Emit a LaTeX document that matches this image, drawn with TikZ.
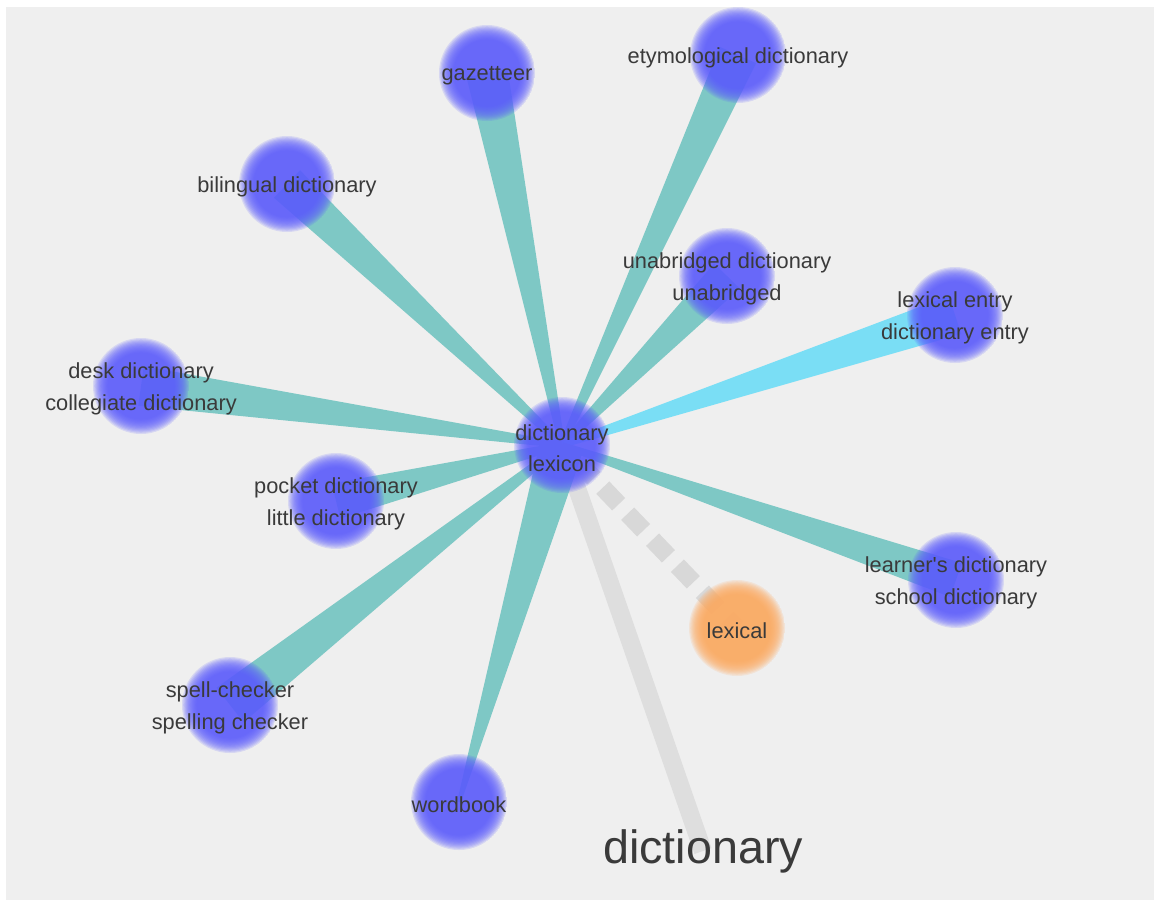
\documentclass[tikz,border=0pt]{standalone}
\usepackage{fontspec}
\setmainfont{Liberation Sans}
\usetikzlibrary{calc}
\definecolor{bgc}{RGB}{239,239,239}
\definecolor{tealE}{RGB}{126,200,197}
\definecolor{cyanE}{RGB}{122,222,245}
\definecolor{ballB}{RGB}{92,92,255}
\definecolor{ballO}{RGB}{255,170,95}
\definecolor{txt}{RGB}{58,58,58}
\definecolor{gline}{RGB}{222,222,222}
\definecolor{gdash}{RGB}{216,216,216}
\pgfdeclarelayer{bgl}
\pgfdeclarelayer{edges}
\pgfsetlayers{bgl,edges,main}
\tikzset{
  ball/.style={circle, minimum size=96pt, inner sep=0pt, draw=none,
    path picture={
      \foreach \r in {48,46.8,...,33}{
        \fill[#1, fill opacity=0.16] (path picture bounding box.center) circle[radius=\r pt];}
    }},
  lbl/.style={font=\fontsize{21.8}{31.5}\selectfont, text=txt, align=center, inner sep=0pt, yshift=-3pt},
  bigtxt/.style={font=\fontsize{46.7}{50}\selectfont, text=txt, inner sep=0pt},
  tealwedge/.style={fill=tealE},
  cyanwedge/.style={fill=cyanE},
  grayband/.style={draw=gline, line width=18pt},
  graydash/.style={draw=gdash, line width=18pt, dash pattern=on 23pt off 13pt, dash phase=13pt}
}
\newcommand\edgewedge[5]{%
  \fill[#5] ($(#1.center)!#3!90:(#2.center)$) -- ($(#1.center)!#3!-90:(#2.center)$)
    -- ($(#2.center)!#4!90:(#1.center)$) -- ($(#2.center)!#4!-90:(#1.center)$) -- cycle;}
\begin{document}
\begin{tikzpicture}[x=1pt,y=-1pt]
\useasboundingbox (0,0) rectangle (1155,902);
\begin{pgfonlayer}{bgl}
  \fill[white] (0,0) rectangle (1155,902);
  \fill[bgc] (6,7) rectangle (1154,900);
\end{pgfonlayer}

\node[ball=ballB, label={[lbl]center:{dictionary\\lexicon}}] (c) at (562,445) {};
\node[ball=ballB, label={[lbl]center:{gazetteer}}] (gaz) at (487,73) {};
\node[ball=ballB, label={[lbl]center:{etymological dictionary}}] (ety) at (738,55) {};
\node[ball=ballB, label={[lbl]center:{bilingual dictionary}}] (bil) at (287,184) {};
\node[ball=ballB, label={[lbl]center:{unabridged dictionary\\unabridged}}] (una) at (727,276) {};
\node[ball=ballB, label={[lbl]center:{lexical entry\\dictionary entry}}] (lent) at (955,315) {};
\node[ball=ballB, label={[lbl]center:{desk dictionary\\collegiate dictionary}}] (desk) at (141,386) {};
\node[ball=ballB, label={[lbl]center:{pocket dictionary\\little dictionary}}] (pock) at (336,501) {};
\node[ball=ballB, label={[lbl]center:{learner\textquotesingle s dictionary\\school dictionary}}] (lrn) at (956,580) {};
\node[ball=ballO, label={[lbl]center:{lexical}}] (lexl) at (737,628) {};
\node[ball=ballB, label={[lbl]center:{spell-checker\\spelling checker}}] (spell) at (230,705) {};
\node[ball=ballB, label={[lbl]center:{wordbook}}] (word) at (459,802) {};
\node[bigtxt] (big) at (703,851) {dictionary};

\begin{pgfonlayer}{edges}
  \draw[grayband] (c.center) -- (big.center);
  \draw[graydash] (c.center) -- (lexl.center);
  \edgewedge{c}{gaz}{3pt}{21pt}{tealwedge}
  \edgewedge{c}{ety}{3pt}{20pt}{tealwedge}
  \edgewedge{c}{bil}{3pt}{19pt}{tealwedge}
  \edgewedge{c}{una}{3pt}{18pt}{tealwedge}
  \edgewedge{c}{lent}{3pt}{20pt}{cyanwedge}
  \edgewedge{c}{desk}{3pt}{20pt}{tealwedge}
  \edgewedge{c}{pock}{3pt}{18pt}{tealwedge}
  \edgewedge{c}{lrn}{3pt}{18pt}{tealwedge}
  \edgewedge{c}{spell}{3pt}{22pt}{tealwedge}
  \edgewedge{word}{c}{2pt}{22pt}{tealwedge}
\end{pgfonlayer}
\end{tikzpicture}
\end{document}
